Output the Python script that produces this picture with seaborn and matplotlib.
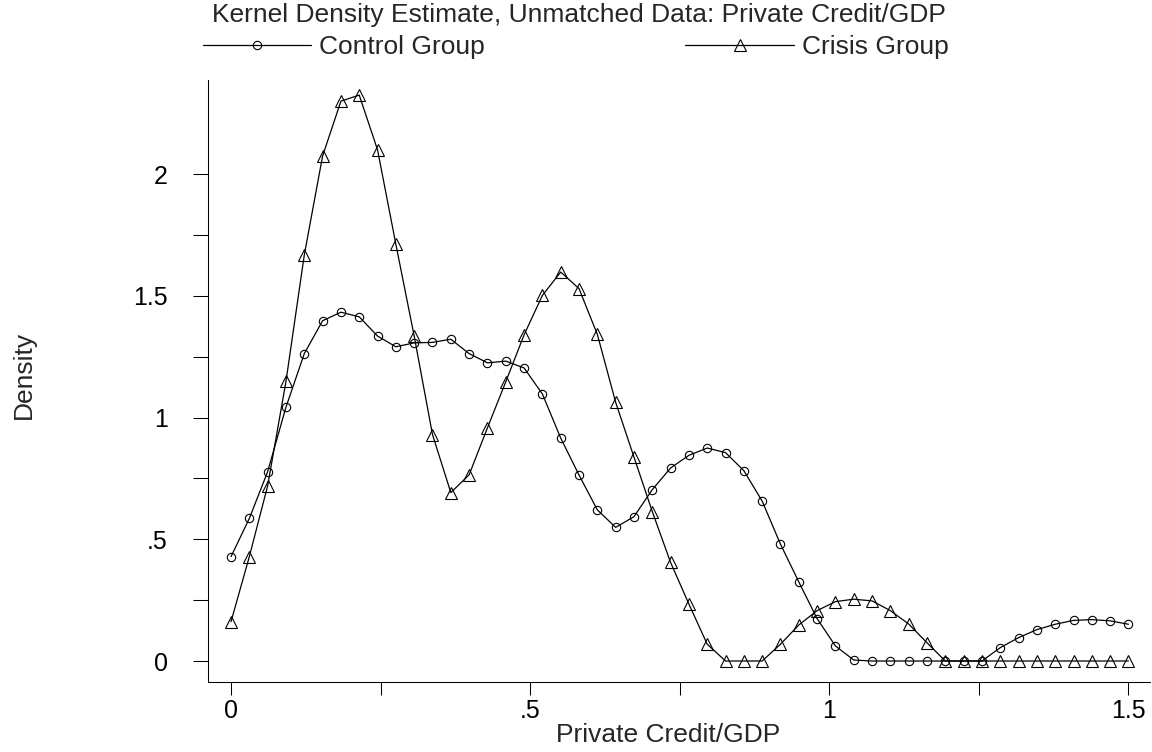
import matplotlib
matplotlib.use("Agg")
import matplotlib.pyplot as plt
import numpy as np
import seaborn as sns

# kernel density evaluated on 50 evenly spaced points of Private Credit/GDP
credit_gdp = np.linspace(0, 1.5, 50)

control_density = [
    0.429, 0.586, 0.778, 1.043, 1.263, 1.398, 1.433, 1.414, 1.335, 1.291,
    1.307, 1.309, 1.322, 1.263, 1.225, 1.232, 1.204, 1.097, 0.916, 0.764,
    0.621, 0.549, 0.593, 0.704, 0.793, 0.845, 0.875, 0.856, 0.782, 0.657,
    0.480, 0.325, 0.174, 0.062, 0.004, 0.0, 0.0, 0.0, 0.0, 0.0,
    0.0, 0.0, 0.055, 0.096, 0.129, 0.151, 0.167, 0.170, 0.165, 0.151,
]
crisis_density = [
    0.162, 0.429, 0.720, 1.149, 1.668, 2.075, 2.300, 2.325, 2.100, 1.712,
    1.335, 0.930, 0.692, 0.765, 0.958, 1.147, 1.340, 1.502, 1.598, 1.530,
    1.342, 1.063, 0.838, 0.614, 0.405, 0.234, 0.069, 0.0, 0.0, 0.0,
    0.069, 0.148, 0.207, 0.244, 0.254, 0.247, 0.207, 0.152, 0.075, 0.0,
    0.0, 0.0, 0.0, 0.0, 0.0, 0.0, 0.0, 0.0, 0.0, 0.0,
]

title = "Kernel Density Estimate, Unmatched Data: Private Credit/GDP"
group_labels = ["Control Group", "Crisis Group"]
x_ticks, x_ticklabels = [0, 0.5, 1, 1.5], ["0", ".5", "1", "1.5"]
y_ticks, y_ticklabels = [0, 0.5, 1, 1.5, 2], ["0", ".5", "1", "1.5", "2"]

sns.set_theme(style="ticks")
plt.rcParams["font.family"] = ["Liberation Sans", "DejaVu Sans"]
plt.rcParams["axes.edgecolor"] = "black"
plt.rcParams["xtick.color"] = "black"
plt.rcParams["ytick.color"] = "black"

W, H = 1152, 752
fig = plt.figure(figsize=(W / 100, H / 100), dpi=100)
ax = fig.add_axes([207.7 / W, (H - 681.7) / H, (1150 - 207.7) / W, (681.7 - 80) / H])

line_kws = dict(color="black", lw=0.9, mfc="none", mec="black", mew=0.8)
sns.lineplot(x=credit_gdp, y=control_density, ax=ax, marker="o", ms=6,
             label=group_labels[0], **line_kws)
sns.lineplot(x=credit_gdp, y=crisis_density, ax=ax, marker="^", ms=8.5,
             label=group_labels[1], **line_kws)

ax.set_xlim(-0.039, 1.536)
ax.set_ylim(-0.085, 2.387)
ax.set_xticks(x_ticks, labels=x_ticklabels)
ax.set_xticks([0.25, 0.75, 1.25], minor=True)
ax.set_yticks(y_ticks, labels=y_ticklabels)
ax.set_yticks([0.25, 0.75, 1.25, 1.75], minor=True)
ax.tick_params(axis="y", which="both", length=10.8, width=0.75, pad=18, labelsize=18)
ax.tick_params(axis="x", which="both", length=9, width=0.75, pad=3.5, labelsize=18)
sns.despine(ax=ax)
for s in ax.spines.values():
    s.set_linewidth(0.75)

ax.set_xlabel("Private Credit/GDP", fontsize=19, va="center")
ax.xaxis.set_label_coords(0.4885, -0.0886)
ax.set_ylabel("Density", fontsize=19, va="center")
ax.yaxis.set_label_coords(-0.195, 0.51)

handles, labels = ax.get_legend_handles_labels()
if ax.get_legend() is not None:
    ax.get_legend().remove()
fig.legend(handles, labels, ncol=2, loc="center left",
           bbox_to_anchor=(203 / W, 1 - 47 / H), frameon=False, fontsize=19,
           handlelength=4.1, handletextpad=0.3, columnspacing=7.6,
           numpoints=1, borderpad=0, borderaxespad=0)

fig.text(212 / W, 1 - 15 / H, title, ha="left", va="center", fontsize=19)

fig.savefig("out.png", dpi=100)
